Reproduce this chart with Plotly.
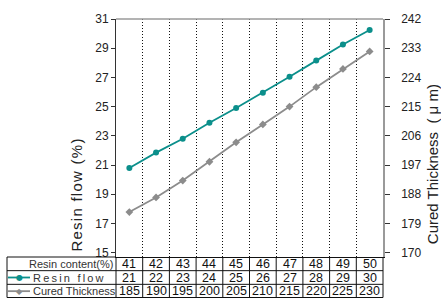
import plotly.graph_objects as go

# ---- data ----
resin_content = [41, 42, 43, 44, 45, 46, 47, 48, 49, 50]
resin_flow_table = [21, 22, 23, 24, 25, 26, 27, 28, 29, 30]
cured_thickness_table = [185, 190, 195, 200, 205, 210, 215, 220, 225, 230]
resin_flow_plot = [20.8, 21.85, 22.8, 23.9, 24.9, 25.95, 27.05, 28.15, 29.25, 30.25]
cured_thickness_plot = [182.5, 187.0, 192.2, 198.0, 204.0, 209.5, 215.0, 221.0, 226.6, 232.0]
left_ticks = [15, 17, 19, 21, 23, 25, 27, 29, 31]
right_ticks = [170, 179, 188, 197, 206, 215, 224, 233, 242]

TEAL = "#0b8f8b"
GRAY = "#8c8c8c"
FONT = "Arial, Liberation Sans, sans-serif"

W, H = 441, 298
ML, MR, MT, MB = 116, 58, 16, 41
PW = W - ML - MR
ROW_H = MB / 3.0
TABLE_LEFT = 7
PAD = 0.3  # small extension of the value range below the lowest tick

fig = go.Figure()
fig.add_trace(go.Scatter(x=resin_content, y=resin_flow_plot, mode="lines+markers",
                         line=dict(color=TEAL, width=1.8),
                         marker=dict(symbol="circle", size=6, color=TEAL),
                         showlegend=False, yaxis="y"))
fig.add_trace(go.Scatter(x=resin_content, y=cured_thickness_plot, mode="lines+markers",
                         line=dict(color=GRAY, width=1.8),
                         marker=dict(symbol="diamond", size=6, color=GRAY),
                         showlegend=False, yaxis="y2"))

xmin = resin_content[0] - 0.5
xmax = resin_content[-1] + 0.5
ratio = (right_ticks[-1] - right_ticks[0]) / (left_ticks[-1] - left_ticks[0])

fig.update_layout(
    width=W, height=H, margin=dict(l=ML, r=MR, t=MT, b=MB),
    paper_bgcolor="white", plot_bgcolor="white",
    font=dict(family=FONT, color="#222", size=12),
    xaxis=dict(range=[xmin, xmax], tick0=xmin, dtick=1, showgrid=True,
               griddash="1px,2px", gridcolor="#111", gridwidth=1,
               showticklabels=False, ticks="", zeroline=False,
               showline=True, linecolor="#111", linewidth=1),
    yaxis=dict(range=[left_ticks[0] - PAD, left_ticks[-1]], tickvals=left_ticks,
               ticks="outside", ticklen=4, tickcolor="#333", showgrid=False,
               zeroline=False, showline=True, linecolor="#333", linewidth=1,
               tickfont=dict(size=12, color="#222")),
    yaxis2=dict(range=[right_ticks[0] - PAD * ratio, right_ticks[-1]], tickvals=right_ticks,
                overlaying="y", side="right", ticks="outside", ticklen=5,
                tickcolor="#333", showgrid=False, zeroline=False,
                showline=True, linecolor="#9a9a9a", linewidth=1.5,
                ticklabelstandoff=9,
                tickfont=dict(size=12, color="#222")),
)

# top border
fig.add_shape(type="line", xref="paper", yref="paper", x0=0, x1=1, y0=1, y1=1,
              line=dict(color="#9a9a9a", width=1.5))

# axis titles
left_title = "\u200a".join(list("Resin flow (%)"))
fig.add_annotation(text=left_title, xref="paper", yref="paper", x=0, y=0.258,
                   xanchor="center", yanchor="middle",
                   xshift=-(ML - 77), textangle=-90, showarrow=False,
                   font=dict(size=15, color="#222"))
fig.add_annotation(text="Cured Thickness  ( μ m)", xref="paper", yref="paper", x=1, y=0.39,
                   xanchor="center", yanchor="middle",
                   xshift=(W - ML - PW) - 9, textangle=-90, showarrow=False,
                   font=dict(size=15, color="#222"))

# ---- table ----
line_style = dict(color="#111", width=1)


def pix_line(x0, x1, y0, y1, line):
    fig.add_shape(type="line", xref="paper", yref="paper", xsizemode="pixel",
                  ysizemode="pixel", xanchor=0, yanchor=0,
                  x0=x0, x1=x1, y0=y0, y1=y1, line=line)


for k in range(1, 4):
    off = -k * ROW_H + (0.5 if k == 3 else 0)
    pix_line(TABLE_LEFT - ML, PW, off, off, line_style)
pix_line(TABLE_LEFT - ML, 0, 0, 0, line_style)
for px in [TABLE_LEFT - ML, 0, PW]:
    pix_line(px, px, 0, -MB + 0.5, line_style)
for c in resin_content[:-1]:
    fig.add_shape(type="line", xref="x", yref="paper", ysizemode="pixel", yanchor=0,
                  x0=c + 0.5, x1=c + 0.5, y0=0, y1=-MB + 0.5, line=line_style)

rows = [resin_content, resin_flow_table, cured_thickness_table]
for r, vals in enumerate(rows):
    ycen = -(r + 0.5) * ROW_H
    for c, v in zip(resin_content, vals):
        fig.add_annotation(text=str(v), xref="x", yref="paper", x=c, y=0,
                           xanchor="center", yanchor="middle",
                           yshift=ycen, showarrow=False,
                           font=dict(size=12.5, color="#111"))

fig.add_annotation(text="Resin content(%)", xref="paper", yref="paper", x=0, y=0,
                   xanchor="right", yanchor="middle", xshift=-1,
                   yshift=-0.5 * ROW_H - 0.5, showarrow=False,
                   font=dict(size=11, color="#333"))
spaced = "\u2009".join(list("Resin flow"))
fig.add_annotation(text=spaced, xref="paper", yref="paper", x=0, y=0,
                   xanchor="left", yanchor="middle", xshift=31 - ML,
                   yshift=-1.5 * ROW_H, showarrow=False,
                   font=dict(size=11, color="#333"))
fig.add_annotation(text="Cured Thickness", xref="paper", yref="paper", x=0, y=0,
                   xanchor="left", yanchor="middle", xshift=31 - ML,
                   yshift=-2.5 * ROW_H, showarrow=False,
                   font=dict(size=11, color="#333"))

# legend glyphs in table
for r, color, sym in [(1, TEAL, "●"), (2, GRAY, "◆")]:
    yc = -(r + 0.5) * ROW_H
    pix_line(TABLE_LEFT + 1 - ML, 30 - ML, yc, yc, dict(color=color, width=1.8))
    fig.add_annotation(text=sym, xref="paper", yref="paper", x=0, y=0,
                       xanchor="center", yanchor="middle", xshift=19 - ML,
                       yshift=yc, showarrow=False,
                       font=dict(size=8, color=color, family="DejaVu Sans"))

fig.write_html("out.html", config={"displayModeBar": False},
               post_script="document.body.style.margin='0';document.body.style.overflow='hidden';")
